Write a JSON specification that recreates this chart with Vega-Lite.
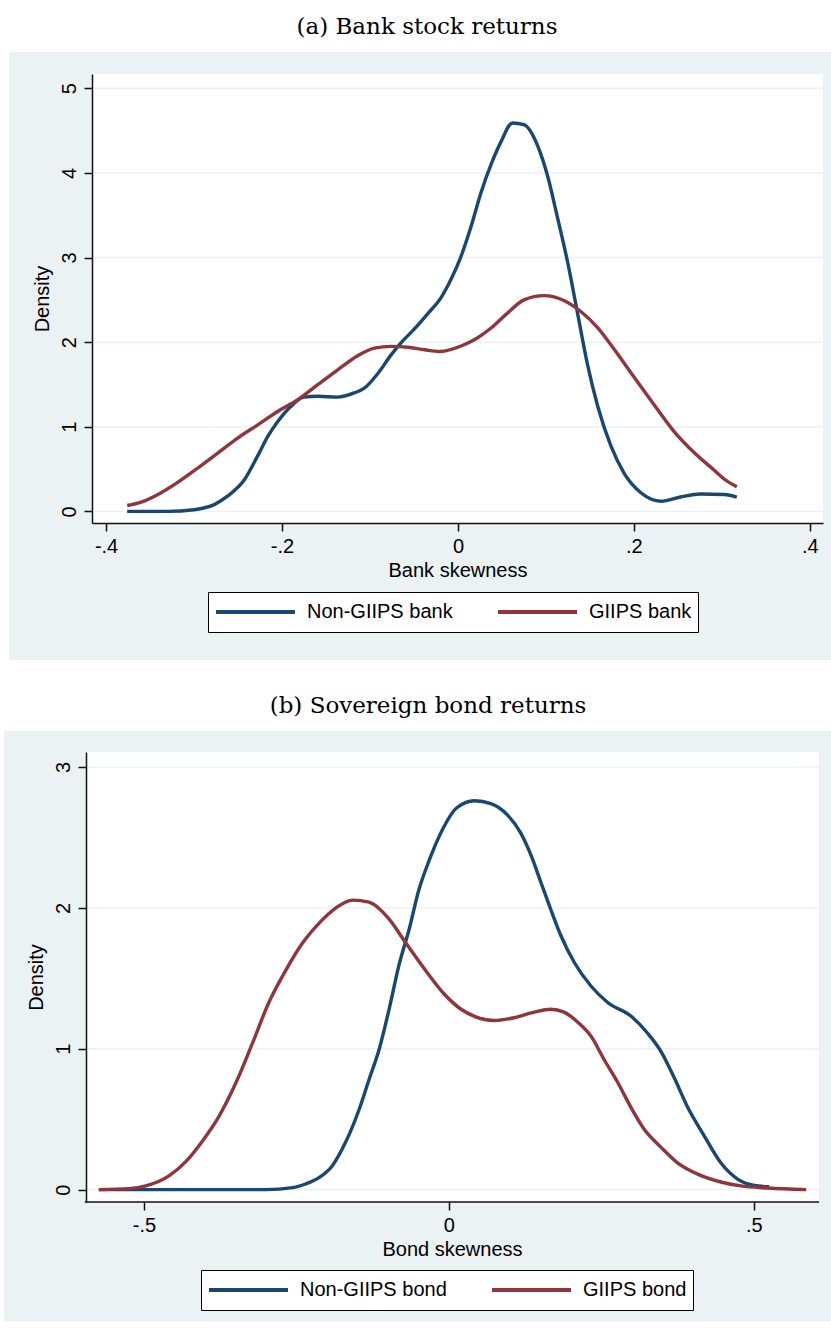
{
  "$schema": "https://vega.github.io/schema/vega-lite/v6.json",
  "background": "white",
  "padding": {"left": 3, "top": 15, "right": 0, "bottom": 0},
  "spacing": 33,
  "datasets": {
    "bank": [
      {"series": "Non-GIIPS bank", "x": -0.376, "y": 0.0},
      {"series": "Non-GIIPS bank", "x": -0.330, "y": 0.0},
      {"series": "Non-GIIPS bank", "x": -0.300, "y": 0.02},
      {"series": "Non-GIIPS bank", "x": -0.277, "y": 0.08},
      {"series": "Non-GIIPS bank", "x": -0.262, "y": 0.18},
      {"series": "Non-GIIPS bank", "x": -0.243, "y": 0.37},
      {"series": "Non-GIIPS bank", "x": -0.228, "y": 0.65},
      {"series": "Non-GIIPS bank", "x": -0.216, "y": 0.89},
      {"series": "Non-GIIPS bank", "x": -0.205, "y": 1.06},
      {"series": "Non-GIIPS bank", "x": -0.190, "y": 1.24},
      {"series": "Non-GIIPS bank", "x": -0.175, "y": 1.35},
      {"series": "Non-GIIPS bank", "x": -0.159, "y": 1.36},
      {"series": "Non-GIIPS bank", "x": -0.137, "y": 1.35},
      {"series": "Non-GIIPS bank", "x": -0.118, "y": 1.40},
      {"series": "Non-GIIPS bank", "x": -0.106, "y": 1.46},
      {"series": "Non-GIIPS bank", "x": -0.091, "y": 1.63},
      {"series": "Non-GIIPS bank", "x": -0.076, "y": 1.85},
      {"series": "Non-GIIPS bank", "x": -0.065, "y": 1.99},
      {"series": "Non-GIIPS bank", "x": -0.050, "y": 2.15},
      {"series": "Non-GIIPS bank", "x": -0.034, "y": 2.34},
      {"series": "Non-GIIPS bank", "x": -0.019, "y": 2.53},
      {"series": "Non-GIIPS bank", "x": -0.008, "y": 2.74},
      {"series": "Non-GIIPS bank", "x": 0.003, "y": 3.00},
      {"series": "Non-GIIPS bank", "x": 0.015, "y": 3.37},
      {"series": "Non-GIIPS bank", "x": 0.026, "y": 3.76},
      {"series": "Non-GIIPS bank", "x": 0.038, "y": 4.11},
      {"series": "Non-GIIPS bank", "x": 0.049, "y": 4.37},
      {"series": "Non-GIIPS bank", "x": 0.062, "y": 4.59},
      {"series": "Non-GIIPS bank", "x": 0.075, "y": 4.57},
      {"series": "Non-GIIPS bank", "x": 0.091, "y": 4.31},
      {"series": "Non-GIIPS bank", "x": 0.102, "y": 3.96},
      {"series": "Non-GIIPS bank", "x": 0.113, "y": 3.48},
      {"series": "Non-GIIPS bank", "x": 0.125, "y": 2.93},
      {"series": "Non-GIIPS bank", "x": 0.136, "y": 2.34},
      {"series": "Non-GIIPS bank", "x": 0.147, "y": 1.75},
      {"series": "Non-GIIPS bank", "x": 0.159, "y": 1.24},
      {"series": "Non-GIIPS bank", "x": 0.174, "y": 0.77},
      {"series": "Non-GIIPS bank", "x": 0.189, "y": 0.45},
      {"series": "Non-GIIPS bank", "x": 0.208, "y": 0.22},
      {"series": "Non-GIIPS bank", "x": 0.231, "y": 0.12},
      {"series": "Non-GIIPS bank", "x": 0.253, "y": 0.17},
      {"series": "Non-GIIPS bank", "x": 0.276, "y": 0.205},
      {"series": "Non-GIIPS bank", "x": 0.303, "y": 0.20},
      {"series": "Non-GIIPS bank", "x": 0.317, "y": 0.17},
      {"series": "GIIPS bank", "x": -0.376, "y": 0.07},
      {"series": "GIIPS bank", "x": -0.360, "y": 0.11},
      {"series": "GIIPS bank", "x": -0.341, "y": 0.20},
      {"series": "GIIPS bank", "x": -0.319, "y": 0.34},
      {"series": "GIIPS bank", "x": -0.296, "y": 0.51},
      {"series": "GIIPS bank", "x": -0.273, "y": 0.69},
      {"series": "GIIPS bank", "x": -0.250, "y": 0.87},
      {"series": "GIIPS bank", "x": -0.228, "y": 1.02},
      {"series": "GIIPS bank", "x": -0.205, "y": 1.18},
      {"series": "GIIPS bank", "x": -0.182, "y": 1.32},
      {"series": "GIIPS bank", "x": -0.159, "y": 1.50},
      {"series": "GIIPS bank", "x": -0.137, "y": 1.67},
      {"series": "GIIPS bank", "x": -0.114, "y": 1.84},
      {"series": "GIIPS bank", "x": -0.095, "y": 1.93},
      {"series": "GIIPS bank", "x": -0.076, "y": 1.95},
      {"series": "GIIPS bank", "x": -0.057, "y": 1.94},
      {"series": "GIIPS bank", "x": -0.038, "y": 1.91},
      {"series": "GIIPS bank", "x": -0.021, "y": 1.89},
      {"series": "GIIPS bank", "x": 0.007, "y": 1.97},
      {"series": "GIIPS bank", "x": 0.022, "y": 2.05},
      {"series": "GIIPS bank", "x": 0.038, "y": 2.17},
      {"series": "GIIPS bank", "x": 0.056, "y": 2.34},
      {"series": "GIIPS bank", "x": 0.075, "y": 2.50},
      {"series": "GIIPS bank", "x": 0.098, "y": 2.55},
      {"series": "GIIPS bank", "x": 0.121, "y": 2.49},
      {"series": "GIIPS bank", "x": 0.140, "y": 2.36},
      {"series": "GIIPS bank", "x": 0.159, "y": 2.17},
      {"series": "GIIPS bank", "x": 0.178, "y": 1.91},
      {"series": "GIIPS bank", "x": 0.200, "y": 1.59},
      {"series": "GIIPS bank", "x": 0.223, "y": 1.26},
      {"series": "GIIPS bank", "x": 0.246, "y": 0.94},
      {"series": "GIIPS bank", "x": 0.269, "y": 0.69},
      {"series": "GIIPS bank", "x": 0.291, "y": 0.49},
      {"series": "GIIPS bank", "x": 0.303, "y": 0.38},
      {"series": "GIIPS bank", "x": 0.317, "y": 0.29}
    ],
    "bond": [
      {"series": "Non-GIIPS bond", "x": -0.574, "y": 0.0},
      {"series": "Non-GIIPS bond", "x": -0.300, "y": 0.0},
      {"series": "Non-GIIPS bond", "x": -0.256, "y": 0.014},
      {"series": "Non-GIIPS bond", "x": -0.235, "y": 0.04},
      {"series": "Non-GIIPS bond", "x": -0.213, "y": 0.085},
      {"series": "Non-GIIPS bond", "x": -0.191, "y": 0.17},
      {"series": "Non-GIIPS bond", "x": -0.170, "y": 0.33},
      {"series": "Non-GIIPS bond", "x": -0.147, "y": 0.57},
      {"series": "Non-GIIPS bond", "x": -0.131, "y": 0.78},
      {"series": "Non-GIIPS bond", "x": -0.114, "y": 1.00},
      {"series": "Non-GIIPS bond", "x": -0.098, "y": 1.28},
      {"series": "Non-GIIPS bond", "x": -0.082, "y": 1.59},
      {"series": "Non-GIIPS bond", "x": -0.065, "y": 1.85},
      {"series": "Non-GIIPS bond", "x": -0.049, "y": 2.13},
      {"series": "Non-GIIPS bond", "x": -0.032, "y": 2.34},
      {"series": "Non-GIIPS bond", "x": -0.010, "y": 2.56},
      {"series": "Non-GIIPS bond", "x": 0.013, "y": 2.71},
      {"series": "Non-GIIPS bond", "x": 0.042, "y": 2.76},
      {"series": "Non-GIIPS bond", "x": 0.069, "y": 2.74},
      {"series": "Non-GIIPS bond", "x": 0.096, "y": 2.66},
      {"series": "Non-GIIPS bond", "x": 0.118, "y": 2.53},
      {"series": "Non-GIIPS bond", "x": 0.135, "y": 2.37},
      {"series": "Non-GIIPS bond", "x": 0.151, "y": 2.18},
      {"series": "Non-GIIPS bond", "x": 0.167, "y": 1.99},
      {"series": "Non-GIIPS bond", "x": 0.184, "y": 1.80},
      {"series": "Non-GIIPS bond", "x": 0.206, "y": 1.61},
      {"series": "Non-GIIPS bond", "x": 0.233, "y": 1.445},
      {"series": "Non-GIIPS bond", "x": 0.260, "y": 1.33},
      {"series": "Non-GIIPS bond", "x": 0.299, "y": 1.23},
      {"series": "Non-GIIPS bond", "x": 0.326, "y": 1.11},
      {"series": "Non-GIIPS bond", "x": 0.348, "y": 0.98},
      {"series": "Non-GIIPS bond", "x": 0.370, "y": 0.79},
      {"series": "Non-GIIPS bond", "x": 0.391, "y": 0.59},
      {"series": "Non-GIIPS bond", "x": 0.419, "y": 0.38},
      {"series": "Non-GIIPS bond", "x": 0.446, "y": 0.19},
      {"series": "Non-GIIPS bond", "x": 0.474, "y": 0.073},
      {"series": "Non-GIIPS bond", "x": 0.501, "y": 0.03},
      {"series": "Non-GIIPS bond", "x": 0.525, "y": 0.02},
      {"series": "GIIPS bond", "x": -0.574, "y": 0.0},
      {"series": "GIIPS bond", "x": -0.525, "y": 0.007},
      {"series": "GIIPS bond", "x": -0.497, "y": 0.026},
      {"series": "GIIPS bond", "x": -0.459, "y": 0.097},
      {"series": "GIIPS bond", "x": -0.431, "y": 0.20},
      {"series": "GIIPS bond", "x": -0.404, "y": 0.345},
      {"series": "GIIPS bond", "x": -0.377, "y": 0.52},
      {"series": "GIIPS bond", "x": -0.349, "y": 0.76},
      {"series": "GIIPS bond", "x": -0.322, "y": 1.04},
      {"series": "GIIPS bond", "x": -0.295, "y": 1.33},
      {"series": "GIIPS bond", "x": -0.267, "y": 1.56},
      {"series": "GIIPS bond", "x": -0.240, "y": 1.75},
      {"series": "GIIPS bond", "x": -0.213, "y": 1.89},
      {"series": "GIIPS bond", "x": -0.185, "y": 2.00},
      {"series": "GIIPS bond", "x": -0.158, "y": 2.055},
      {"series": "GIIPS bond", "x": -0.131, "y": 2.04},
      {"series": "GIIPS bond", "x": -0.098, "y": 1.92},
      {"series": "GIIPS bond", "x": -0.0705, "y": 1.75},
      {"series": "GIIPS bond", "x": -0.032, "y": 1.52},
      {"series": "GIIPS bond", "x": -0.008, "y": 1.39},
      {"series": "GIIPS bond", "x": 0.020, "y": 1.28},
      {"series": "GIIPS bond", "x": 0.042, "y": 1.23},
      {"series": "GIIPS bond", "x": 0.074, "y": 1.20},
      {"series": "GIIPS bond", "x": 0.107, "y": 1.22},
      {"series": "GIIPS bond", "x": 0.140, "y": 1.26},
      {"series": "GIIPS bond", "x": 0.167, "y": 1.28},
      {"series": "GIIPS bond", "x": 0.189, "y": 1.26},
      {"series": "GIIPS bond", "x": 0.211, "y": 1.19},
      {"series": "GIIPS bond", "x": 0.233, "y": 1.09},
      {"series": "GIIPS bond", "x": 0.255, "y": 0.92},
      {"series": "GIIPS bond", "x": 0.277, "y": 0.76},
      {"series": "GIIPS bond", "x": 0.299, "y": 0.58},
      {"series": "GIIPS bond", "x": 0.320, "y": 0.43},
      {"series": "GIIPS bond", "x": 0.348, "y": 0.30},
      {"series": "GIIPS bond", "x": 0.375, "y": 0.19},
      {"series": "GIIPS bond", "x": 0.408, "y": 0.11},
      {"series": "GIIPS bond", "x": 0.446, "y": 0.054},
      {"series": "GIIPS bond", "x": 0.479, "y": 0.026},
      {"series": "GIIPS bond", "x": 0.523, "y": 0.011},
      {"series": "GIIPS bond", "x": 0.586, "y": 0.0}
    ],
    "gridA": [{"g": 0}, {"g": 1}, {"g": 2}, {"g": 3}, {"g": 4}, {"g": 5}],
    "gridB": [{"g": 0}, {"g": 1}, {"g": 2}, {"g": 3}],
    "one": [{}]
  },
  "vconcat": [
    {
      "width": 731,
      "height": 449,
      "title": {"text": "(a) Bank stock returns", "dx": 9, "offset": 13},
      "layer": [
        {
          "data": {"name": "one"},
          "mark": {"type": "rect", "color": "white"},
          "encoding": {
            "x": {"datum": -0.5161, "type": "quantitative", "scale": {"domain": [-0.416, 0.415], "nice": false, "zero": false}},
            "x2": {"datum": -0.5104},
            "y": {"datum": 5.429, "type": "quantitative", "scale": {"domain": [-0.137, 5.169], "nice": false, "zero": false}},
            "y2": {"datum": -1.756}
          }
        },
        {
          "data": {"name": "one"},
          "mark": {"type": "rect", "color": "#EAF2F3"},
          "encoding": {
            "x": {"datum": -0.5104, "type": "quantitative", "scale": {"domain": [-0.416, 0.415], "nice": false, "zero": false}},
            "x2": {"datum": 0.4252},
            "y": {"datum": 5.429, "type": "quantitative", "scale": {"domain": [-0.137, 5.169], "nice": false, "zero": false}},
            "y2": {"datum": -1.756}
          }
        },
        {
          "data": {"name": "one"},
          "mark": {"type": "rect", "color": "white"},
          "encoding": {
            "x": {"datum": -0.416, "type": "quantitative", "scale": {"domain": [-0.416, 0.415], "nice": false, "zero": false}},
            "x2": {"datum": 0.415},
            "y": {"datum": 5.169, "type": "quantitative", "scale": {"domain": [-0.137, 5.169], "nice": false, "zero": false}},
            "y2": {"datum": -0.137}
          }
        },
        {
          "data": {"name": "gridA"},
          "mark": {"type": "rule", "color": "#EAF2F3", "strokeWidth": 1.5},
          "encoding": {
            "y": {"field": "g", "type": "quantitative", "scale": {"domain": [-0.137, 5.169], "nice": false, "zero": false}}
          }
        },
        {
          "data": {"name": "bank"},
          "mark": {"type": "line", "strokeWidth": 3.4, "interpolate": "monotone"},
          "encoding": {
            "x": {"field": "x", "type": "quantitative", "scale": {"domain": [-0.416, 0.415], "nice": false, "zero": false},
                  "axis": {"values": [-0.4, -0.2, 0, 0.2, 0.4], "labelExpr": "datum.value == 0 ? '0' : (datum.value < 0 ? '-' : '') + '.' + round(abs(datum.value) * 10)", "title": "Bank skewness", "zindex": 1}},
            "y": {"field": "y", "type": "quantitative", "scale": {"domain": [-0.137, 5.169], "nice": false, "zero": false},
                  "axis": {"values": [0, 1, 2, 3, 4, 5], "format": "d", "labelAngle": -90, "title": "Density", "titlePadding": 7, "zindex": 1}},
            "color": {"field": "series", "type": "nominal", "sort": null,
                      "scale": {"domain": ["Non-GIIPS bank", "GIIPS bank"], "range": ["#1A476F", "#90353B"]},
                      "legend": {"orient": "none", "legendX": 116, "legendY": 518, "direction": "horizontal", "title": null, "clipHeight": 28}}
          }
        }
      ]
    },
    {
      "width": 727,
      "height": 450,
      "title": {"text": "(b) Sovereign bond returns", "dx": 10, "offset": 13},
      "layer": [
        {
          "data": {"name": "one"},
          "mark": {"type": "rect", "color": "#EAF2F3"},
          "encoding": {
            "x": {"datum": -0.7295, "type": "quantitative", "scale": {"domain": [-0.5852, 0.607], "nice": false, "zero": false}},
            "x2": {"datum": 0.6283},
            "y": {"datum": 3.256, "type": "quantitative", "scale": {"domain": [-0.088, 3.106], "nice": false, "zero": false}},
            "y2": {"datum": -0.935}
          }
        },
        {
          "data": {"name": "one"},
          "mark": {"type": "rect", "color": "white"},
          "encoding": {
            "x": {"datum": -0.595, "type": "quantitative", "scale": {"domain": [-0.5852, 0.607], "nice": false, "zero": false}},
            "x2": {"datum": 0.607},
            "y": {"datum": 3.106, "type": "quantitative", "scale": {"domain": [-0.088, 3.106], "nice": false, "zero": false}},
            "y2": {"datum": -0.088}
          }
        },
        {
          "data": {"name": "gridB"},
          "mark": {"type": "rule", "color": "#EAF2F3", "strokeWidth": 1.5},
          "encoding": {
            "x": {"datum": -0.595, "type": "quantitative", "scale": {"domain": [-0.5852, 0.607], "nice": false, "zero": false}},
            "x2": {"datum": 0.607},
            "y": {"field": "g", "type": "quantitative", "scale": {"domain": [-0.088, 3.106], "nice": false, "zero": false}}
          }
        },
        {
          "data": {"name": "one"},
          "mark": {"type": "rule", "color": "#111", "strokeWidth": 1.5},
          "encoding": {
            "x": {"datum": -0.597, "type": "quantitative", "scale": {"domain": [-0.5852, 0.607], "nice": false, "zero": false}},
            "x2": {"datum": 0.607},
            "y": {"datum": -0.088, "type": "quantitative", "scale": {"domain": [-0.088, 3.106], "nice": false, "zero": false}}
          }
        },
        {
          "data": {"name": "bond"},
          "mark": {"type": "line", "strokeWidth": 3.4, "interpolate": "monotone"},
          "encoding": {
            "x": {"field": "x", "type": "quantitative", "scale": {"domain": [-0.5852, 0.607], "nice": false, "zero": false},
                  "axis": {"values": [-0.5, 0, 0.5], "labelExpr": "datum.value == 0 ? '0' : (datum.value < 0 ? '-' : '') + '.' + round(abs(datum.value) * 10)", "title": "Bond skewness", "titleX": 360, "domain": false, "zindex": 1}},
            "y": {"field": "y", "type": "quantitative", "scale": {"domain": [-0.088, 3.106], "nice": false, "zero": false},
                  "axis": {"values": [0, 1, 2, 3], "format": "d", "labelAngle": -90, "title": "Density", "titlePadding": 7, "offset": 6, "zindex": 1}},
            "color": {"field": "series", "type": "nominal", "sort": null,
                      "scale": {"domain": ["Non-GIIPS bond", "GIIPS bond"], "range": ["#1A476F", "#90353B"]},
                      "legend": {"orient": "none", "legendX": 109, "legendY": 518, "direction": "horizontal", "title": null, "clipHeight": 28}}
          }
        }
      ]
    }
  ],
  "resolve": {"scale": {"color": "independent", "x": "independent", "y": "independent"}},
  "config": {
    "view": {"stroke": null},
    "axis": {
      "labelFont": "Liberation Sans", "titleFont": "Liberation Sans",
      "labelFontSize": 20, "titleFontSize": 20, "titleFontWeight": "normal",
      "labelColor": "#000", "titleColor": "#000",
      "domainColor": "#111", "tickColor": "#111", "domainWidth": 1.5, "tickWidth": 1.5, "tickSize": 8,
      "grid": false, "labelFlush": false, "labelOverlap": false, "labelPadding": 5, "titlePadding": 4
    },
    "legend": {
      "symbolType": "stroke", "symbolSize": 6241, "symbolStrokeWidth": 4,
      "labelFont": "Liberation Sans", "labelFontSize": 20, "labelColor": "#000",
      "labelOffset": 10, "columnPadding": 43, "padding": 6, "labelLimit": 400,
      "strokeColor": "#000", "fillColor": "#fff", "cornerRadius": 0, "symbolOffset": 0
    },
    "title": {"font": "DejaVu Serif", "fontSize": 23, "fontWeight": "normal", "color": "#000", "anchor": "middle", "frame": "bounds"}
  }
}
